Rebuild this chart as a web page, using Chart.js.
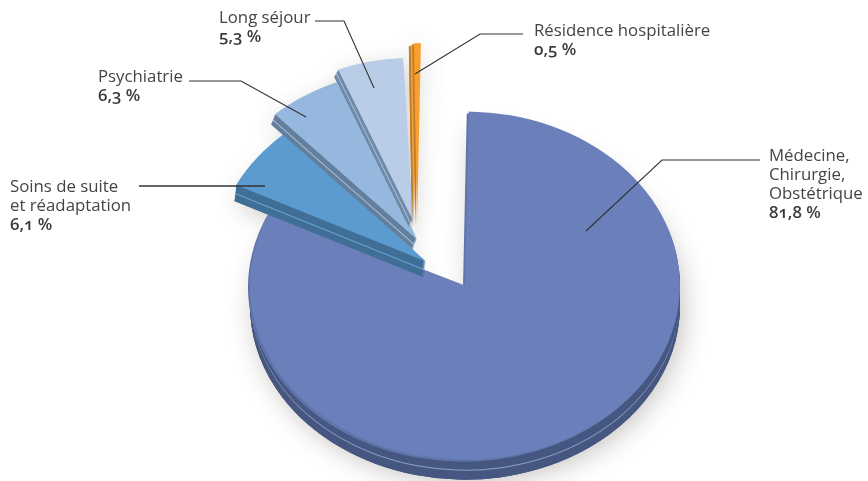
<!DOCTYPE html>
<html lang="fr">
<head>
<meta charset="utf-8">
<title>Répartition par discipline</title>
<script src="https://cdn.jsdelivr.net/npm/chart.js@4"></script>
<style>
  html, body { margin: 0; background: #fff; overflow: hidden; }
  #wrap { position: relative; width: 868px; height: 481px; }
  #chart { position: absolute; left: 0; top: 0; }
  .label {
    position: absolute; white-space: pre; color: #444;
    font: 16.8px/19px "Open Sans", sans-serif;
    font-variant-numeric: oldstyle-nums;
  }
  .label b { font-weight: 600; color: #3a3a3a; }
</style>
</head>
<body>
<div id="wrap"><canvas id="chart" width="868" height="481"></canvas></div>
<script>
// data
const categories = ['Médecine,\nChirurgie,\nObstétrique', 'Soins de suite\net réadaptation', 'Psychiatrie', 'Long séjour', 'Résidence hospitalière'];
const values = [81.8, 6.1, 6.3, 5.3, 0.5];
const valueLabels = ['81,8 %', '6,1 %', '6,3 %', '5,3 %', '0,5 %'];

// colours
const topColors = ['#6b80bb', '#5b9bd0', '#96b8df', '#b9cde6', '#f79f2f'];
const sideColors = ['#465781', '#416f97', '#637f9b', '#6f8aa6', '#c07c26'];
const stripeColors = ['#8fa0c8', '#6fa6d6', '#a4bfdc', '#a9c0dc', '#f0a040'];

// fake 3d layout, each slice is pulled out on its own
const tilt = 0.81;
const baseRadius = 212;
const sliceRadius = [215, 212, 210, 201, 225];
const sliceTurn = [0, 1, 0, -2, 0];
const shiftX = [40, 1, -8, -12, -8];
const shiftY = [45, 21, -1, -20, -15];
const depthX = [0, -2, -4, -4, -5];
const depthY = [20, 16, 10, 7, 3];

// label placement and leader lines
const labelX = [769, 10, 98, 219, 534];
const labelY = [145, 176, 66, 7, 20];
const leaders = [
  [[760, 160], [662, 160], [586, 231]],
  [[139, 186], [265, 186]],
  [[189, 81], [241, 81], [306, 117]],
  [[315, 21], [344, 21], [374, 88]],
  [[523, 34], [480, 34], [415, 74]]
];
const leaderWidths = [1.1, 1.6, 1.1, 1.1, 1.1];

const wrap = document.getElementById('wrap');
categories.forEach(function (name, i) {
  const div = document.createElement('div');
  div.className = 'label';
  div.style.left = labelX[i] + 'px';
  div.style.top = labelY[i] + 'px';
  div.textContent = name + '\n';
  const bold = document.createElement('b');
  bold.textContent = valueLabels[i];
  div.appendChild(bold);
  wrap.appendChild(div);
});

function paintArc(ctx, arc, i, color, dx, dy) {
  const ratio = sliceRadius[i] / baseRadius;
  const ghost = Object.create(arc);
  ghost.options = Object.assign({}, arc.options, { backgroundColor: color });
  ctx.save();
  ctx.translate(arc.x + shiftX[i] + dx, arc.y + shiftY[i] + dy);
  ctx.scale(ratio, tilt * ratio);
  ctx.rotate(sliceTurn[i] * Math.PI / 180);
  ctx.translate(-arc.x, -arc.y);
  ghost.draw(ctx);
  ctx.restore();
}

const tiltedPie = {
  id: 'tiltedPie',
  beforeDatasetDraw(chart, args) {
    const ctx = chart.ctx;
    const arcs = args.meta.data;

    // soft shadow goes under everything, so no slice shades another
    ctx.save();
    ctx.shadowColor = 'rgba(70,60,50,0.3)';
    ctx.shadowBlur = 26;
    ctx.shadowOffsetX = 4;
    ctx.shadowOffsetY = 3;
    arcs.forEach(function (arc, i) {
      paintArc(ctx, arc, i, sideColors[i], depthX[i], depthY[i]);
    });
    ctx.restore();

    arcs.forEach(function (arc, i) {
      const steps = Math.max(Math.abs(depthY[i]), 1);
      for (let s = steps; s >= 1; s--) {
        const t = s / steps;
        const stripe = s === Math.round(steps * 0.55);
        paintArc(ctx, arc, i, stripe ? stripeColors[i] : sideColors[i], depthX[i] * t, depthY[i] * t);
      }
      // thin edge on the first slice's start side
      if (i === 0) paintArc(ctx, arc, i, '#5f74ab', -2, 2);
      paintArc(ctx, arc, i, topColors[i], 0, 0);
    });
    return false;
  },
  afterDatasetsDraw(chart) {
    const ctx = chart.ctx;
    ctx.save();
    ctx.strokeStyle = '#333';
    leaders.forEach(function (pts, i) {
      ctx.lineWidth = leaderWidths[i];
      ctx.beginPath();
      pts.forEach(function (p, j) {
        if (j === 0) ctx.moveTo(p[0], p[1]);
        else ctx.lineTo(p[0], p[1]);
      });
      ctx.stroke();
    });
    ctx.restore();
  }
};

new Chart(document.getElementById('chart'), {
  type: 'pie',
  data: {
    labels: categories,
    datasets: [{
      data: values,
      backgroundColor: topColors,
      borderWidth: 0
    }]
  },
  options: {
    responsive: false,
    animation: false,
    events: [],
    rotation: 1,
    radius: baseRadius,
    layout: { padding: { right: 18 } },
    plugins: { legend: { display: false }, tooltip: { enabled: false } }
  },
  plugins: [tiltedPie]
});
</script>
</body>
</html>
